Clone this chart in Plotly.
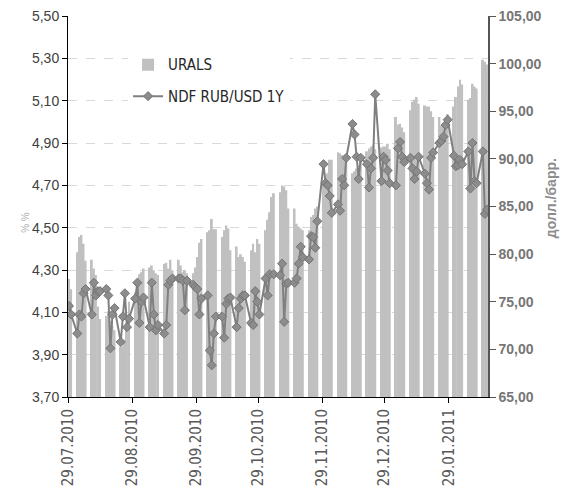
import pandas as pd
import plotly.graph_objects as go

# Business days from 29.07.2010 to 16.02.2011
dates = pd.bdate_range("2010-07-29", "2011-02-16")

# URALS, USD/bbl (right axis)
urals = [
    77.4, 76.3,
    80.2, 81.8, 82.0, 81.1, 79.3,
    79.4, 78.5, 77.8, 74.5, 73.2,
    73.5, 74.0, 73.0, 72.5, 72.0,
    70.3, 70.3, 71.0, 72.3, 75.0,
    76.0, 76.5, 77.9, 78.1, 78.5,
    78.6, 78.8, 78.3, 78.0, 77.8,
    79.0, 79.1, 78.5, 79.4, 78.3,
    79.4, 78.8, 78.1, 78.3, 78.0,
    78.0, 78.6, 79.7, 81.2, 81.6,
    82.3, 82.5, 83.7, 82.6, 82.6,
    81.8, 82.5, 83.0, 82.7, 80.4,
    80.8, 79.7, 80.0, 79.7, 79.2,
    80.4, 81.1, 80.2, 81.6, 81.1,
    82.5, 83.6, 84.4, 86.0, 86.4,
    86.5, 87.2, 87.1, 86.7, 84.8,
    84.8, 83.2, 82.9, 82.7, 82.5,
    82.5, 83.9, 84.1, 84.8, 85.0,
    87.5, 88.0, 88.5, 89.9, 89.9,
    90.7, 90.6, 90.4, 90.0, 89.9,
    88.5, 88.7, 89.0, 89.3, 89.7,
    90.8, 91.1, 91.3, 91.4, 91.0,
    91.2, 91.3, 91.3, 91.6, 91.0,
    94.4, 93.6, 93.7, 93.3, 92.8,
    95.1, 96.0, 96.2, 96.5, 95.8,
    95.6, 95.5, 95.5, 95.0, 94.4,
    94.4, 93.5, 93.8, 94.2, 94.7,
    95.5, 96.5, 97.6, 98.3, 97.8,
    96.2, 96.4, 97.9, 97.6, 97.4,
    100.4, 100.2, 99.9,
]

# NDF RUB/USD 1Y, % (left axis)
ndf = [
    4.13, 4.09,
    4.00, 4.09, 4.08, 4.19, 4.21,
    4.09, 4.24, 4.18, 4.20, 4.20,
    4.21, 4.18, 3.93, 4.09, 4.12,
    3.96, 4.08, 4.19, 4.03, 4.07,
    4.165, 4.24, 4.05, 4.15, 4.17,
    4.03, 4.24, 4.09, 4.015, 4.04,
    4.00, 4.04, 4.23, 4.25, 4.26,
    4.26, 4.26, 4.25, 4.11, 4.25,
    4.23, 4.22, 4.21, 4.09, 4.165,
    4.18, 3.92, 3.85, 4.00, 4.08,
    4.08, 3.98, 4.14, 4.165, 4.17,
    4.03, 4.12, 4.165, 4.18, 4.18,
    4.05, 4.04, 4.20, 4.15, 4.09,
    4.26, 4.18, 4.28, None, 4.28,
    4.275, 4.33, 4.055, 4.235, 4.24,
    4.24, 4.26, 4.33, 4.41, 4.36,
    4.35, 4.46, 4.455, 4.405, 4.53,
    4.80, 4.71, 4.70, 4.65, 4.57,
    4.61, 4.58, 4.73, 4.70, 4.83,
    4.99, 4.94, 4.835, 4.73, 4.83,
    4.80, 4.69, 4.78, 4.83, 5.13,
    4.72, 4.835, 4.82, 4.77, 4.71,
    4.70, 4.875, 4.905, 4.835, 4.81,
    4.83, 4.78, 4.73, 4.765, 4.835,
    4.755, 4.71, 4.68, 4.83, 4.855,
    4.90, 4.91, 4.93, 4.985, 5.01,
    4.84, 4.79, 4.795, 4.82, 4.80,
    4.86, 4.685, 4.90, 4.72, 4.71,
    4.86, 4.565, 4.585,
]

tick_dates = ["2010-07-29", "2010-08-29", "2010-09-29", "2010-10-29",
              "2010-11-29", "2010-12-29", "2011-01-29"]
tick_labels = ["29.07.2010", "29.08.2010", "29.09.2010", "29.10.2010",
               "29.11.2010", "29.12.2010", "29.01.2011"]

DAY = 86400000
NARROW = "DejaVu Sans Condensed, Liberation Sans Narrow, sans-serif"
SANS = "Liberation Sans, Arial, sans-serif"

fig = go.Figure()
fig.add_trace(go.Bar(
    x=dates, y=urals, name="URALS",
    marker=dict(color="#c0c0c0", line=dict(width=0)),
    xperiod=DAY, xperiodalignment="middle",
    yaxis="y", legendgroup="a",
))
fig.add_trace(go.Scatter(
    x=dates, y=ndf, name="NDF RUB/USD 1Y",
    mode="lines+markers", connectgaps=True,
    line=dict(color="#808080", width=2),
    marker=dict(symbol="diamond", size=7, color="#8c8c8c",
                line=dict(color="#747474", width=1)),
    xperiod=DAY, xperiodalignment="middle",
    yaxis="y2", legendgroup="b",
))

# The page body adds an 8px offset; the figure is sized to fit the window.
fig.update_layout(
    width=560, height=482,
    margin=dict(l=60, r=80, t=8, b=93, autoexpand=False),
    plot_bgcolor="white", paper_bgcolor="white",
    separators=", ",
    bargap=0.05,
    legend=dict(
        x=0.143, y=0.915, xanchor="left", yanchor="top",
        bgcolor="white", borderwidth=0,
        traceorder="grouped", tracegroupgap=9,
        font=dict(family=NARROW, size=15, color="#262626"),
    ),
    xaxis=dict(
        type="date", automargin=False,
        range=["2010-07-29", "2011-02-17"],
        tickmode="array", tickvals=tick_dates, ticktext=tick_labels,
        tickangle=-90, ticks="outside", ticklen=5, tickcolor="black",
        showline=True, linecolor="black", linewidth=1,
        showgrid=False, zeroline=False, ticklabeloverflow="allow",
        tickfont=dict(family=NARROW, size=15, color="#595959"),
    ),
    yaxis=dict(
        side="right", range=[65, 105], dtick=5, tick0=65, automargin=False,
        tickformat=".2f", ticklabeloverflow="allow",
        showgrid=False, zeroline=False,
        showline=True, linecolor="#555555", linewidth=1.5,
        ticks="outside", ticklen=6, tickcolor="#555555",
        tickfont=dict(family=SANS, size=14, color="#767676", weight="bold"),
    ),
    yaxis2=dict(
        overlaying="y", side="left", range=[3.7, 5.5], dtick=0.2, tick0=3.7,
        automargin=False, tickformat=".2f", ticklabeloverflow="allow",
        showgrid=True, gridcolor="#d9d9d9", griddash="dash", gridwidth=1,
        zeroline=False,
        showline=True, linecolor="black", linewidth=1,
        ticks="outside", ticklen=5, tickcolor="black",
        tickfont=dict(family=SANS, size=14, color="#404040"),
    ),
    annotations=[
        dict(text="долл./барр.", xref="paper", yref="paper",
             x=1.174, y=0.522, textangle=-90, showarrow=False,
             font=dict(family=SANS, size=14, color="#8c8c8c", weight="bold")),
        dict(text="% %", xref="paper", yref="paper",
             x=-0.121, y=0.459, textangle=-90, showarrow=False,
             font=dict(family=SANS, size=10, color="#b0b0b0")),
    ],
)

fig.write_html("out.html")
